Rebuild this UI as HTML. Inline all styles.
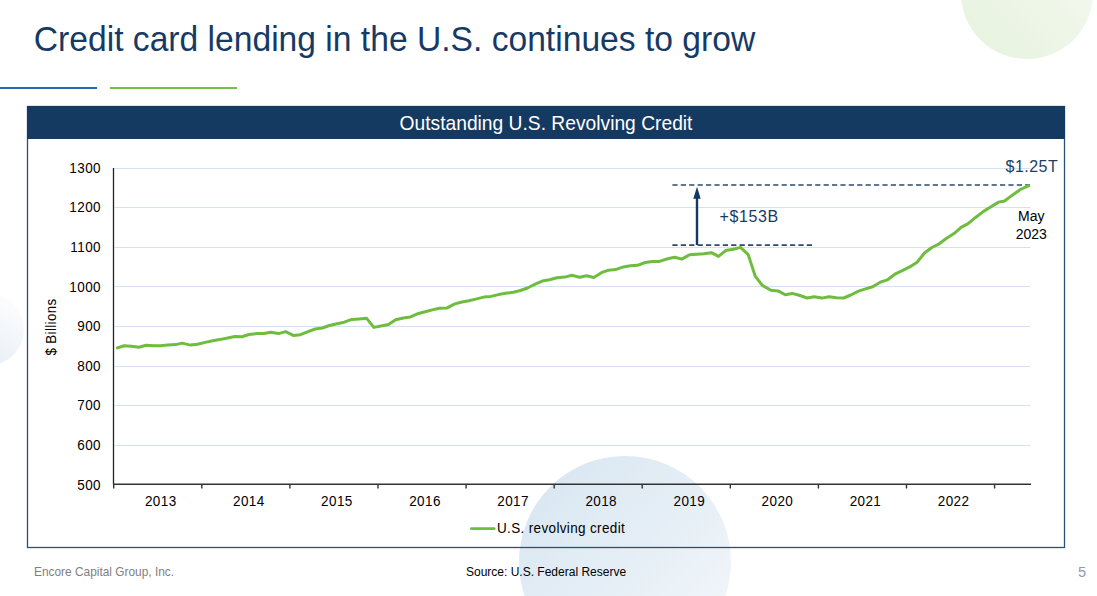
<!DOCTYPE html>
<html><head><meta charset="utf-8"><style>
html,body{margin:0;padding:0;background:#fff;}
body{width:1097px;height:596px;position:relative;overflow:hidden;font-family:"Liberation Sans",sans-serif;}
</style></head><body>
<svg width="1097" height="596" style="position:absolute;left:0;top:0"><defs><linearGradient id="gb" x1="0" y1="0" x2="1" y2="1"><stop offset="0" stop-color="#D6E5F1"/><stop offset="1" stop-color="#F5F8FB"/></linearGradient><linearGradient id="gg" x1="0" y1="1" x2="1" y2="0"><stop offset="0" stop-color="#E6F2DD"/><stop offset="1" stop-color="#F6FAF3"/></linearGradient><linearGradient id="gl" x1="0.7" y1="0" x2="0.3" y2="1"><stop offset="0.1" stop-color="#FBFCFD"/><stop offset="1" stop-color="#E8EEF5"/></linearGradient></defs><circle cx="1027" cy="-7" r="66" fill="url(#gg)"/><circle cx="-12" cy="329.5" r="36" fill="url(#gl)"/><circle cx="625" cy="562" r="106" fill="url(#gb)"/><rect x="0" y="87" width="97" height="2" fill="#1F6CB0"/><rect x="110" y="87" width="127" height="2" fill="#77BE43"/><rect x="27.5" y="106.5" width="1037" height="441" fill="none" stroke="#2A4F78" stroke-width="1.3"/><rect x="27" y="106" width="1038" height="33" fill="#153A61"/><line x1="114.5" y1="168.5" x2="1030.5" y2="168.5" stroke="#D0E2F4" stroke-width="1"/><line x1="114.5" y1="207.5" x2="1030.5" y2="207.5" stroke="#D0E2F4" stroke-width="1"/><line x1="114.5" y1="247.5" x2="1030.5" y2="247.5" stroke="#D0E2F4" stroke-width="1"/><line x1="114.5" y1="286.5" x2="1030.5" y2="286.5" stroke="#D0E2F4" stroke-width="1"/><line x1="114.5" y1="326.5" x2="1030.5" y2="326.5" stroke="#D0E2F4" stroke-width="1"/><line x1="114.5" y1="366.5" x2="1030.5" y2="366.5" stroke="#D0E2F4" stroke-width="1"/><line x1="114.5" y1="405.5" x2="1030.5" y2="405.5" stroke="#D0E2F4" stroke-width="1"/><line x1="114.5" y1="445.5" x2="1030.5" y2="445.5" stroke="#D0E2F4" stroke-width="1"/><line x1="113.5" y1="168" x2="113.5" y2="484.5" stroke="#222" stroke-width="1.3"/><line x1="113" y1="484.3" x2="1031" y2="484.3" stroke="#333" stroke-width="1.6"/><line x1="113.7" y1="484" x2="113.7" y2="488.5" stroke="#333" stroke-width="1.4"/><line x1="201.8" y1="484" x2="201.8" y2="488.5" stroke="#333" stroke-width="1.4"/><line x1="289.9" y1="484" x2="289.9" y2="488.5" stroke="#333" stroke-width="1.4"/><line x1="378.0" y1="484" x2="378.0" y2="488.5" stroke="#333" stroke-width="1.4"/><line x1="466.1" y1="484" x2="466.1" y2="488.5" stroke="#333" stroke-width="1.4"/><line x1="554.2" y1="484" x2="554.2" y2="488.5" stroke="#333" stroke-width="1.4"/><line x1="642.2" y1="484" x2="642.2" y2="488.5" stroke="#333" stroke-width="1.4"/><line x1="730.3" y1="484" x2="730.3" y2="488.5" stroke="#333" stroke-width="1.4"/><line x1="818.4" y1="484" x2="818.4" y2="488.5" stroke="#333" stroke-width="1.4"/><line x1="906.5" y1="484" x2="906.5" y2="488.5" stroke="#333" stroke-width="1.4"/><line x1="994.6" y1="484" x2="994.6" y2="488.5" stroke="#333" stroke-width="1.4"/><text transform="translate(101.00,172.80) scale(1.0,1.1)" text-anchor="end" style="font-family:&quot;Liberation Sans&quot;,sans-serif;font-size:13.5px;letter-spacing:0.4px" fill="#000">1300</text><text transform="translate(101.00,212.40) scale(1.0,1.1)" text-anchor="end" style="font-family:&quot;Liberation Sans&quot;,sans-serif;font-size:13.5px;letter-spacing:0.4px" fill="#000">1200</text><text transform="translate(101.00,252.00) scale(1.0,1.1)" text-anchor="end" style="font-family:&quot;Liberation Sans&quot;,sans-serif;font-size:13.5px;letter-spacing:0.4px" fill="#000">1100</text><text transform="translate(101.00,291.60) scale(1.0,1.1)" text-anchor="end" style="font-family:&quot;Liberation Sans&quot;,sans-serif;font-size:13.5px;letter-spacing:0.4px" fill="#000">1000</text><text transform="translate(101.00,331.20) scale(1.0,1.1)" text-anchor="end" style="font-family:&quot;Liberation Sans&quot;,sans-serif;font-size:13.5px;letter-spacing:0.4px" fill="#000">900</text><text transform="translate(101.00,370.80) scale(1.0,1.1)" text-anchor="end" style="font-family:&quot;Liberation Sans&quot;,sans-serif;font-size:13.5px;letter-spacing:0.4px" fill="#000">800</text><text transform="translate(101.00,410.40) scale(1.0,1.1)" text-anchor="end" style="font-family:&quot;Liberation Sans&quot;,sans-serif;font-size:13.5px;letter-spacing:0.4px" fill="#000">700</text><text transform="translate(101.00,450.00) scale(1.0,1.1)" text-anchor="end" style="font-family:&quot;Liberation Sans&quot;,sans-serif;font-size:13.5px;letter-spacing:0.4px" fill="#000">600</text><text transform="translate(101.00,489.60) scale(1.0,1.1)" text-anchor="end" style="font-family:&quot;Liberation Sans&quot;,sans-serif;font-size:13.5px;letter-spacing:0.4px" fill="#000">500</text><text transform="translate(160.75,505.90) scale(1.0,1.1)" text-anchor="middle" style="font-family:&quot;Liberation Sans&quot;,sans-serif;font-size:13.5px;letter-spacing:0.4px" fill="#000">2013</text><text transform="translate(248.84,505.90) scale(1.0,1.1)" text-anchor="middle" style="font-family:&quot;Liberation Sans&quot;,sans-serif;font-size:13.5px;letter-spacing:0.4px" fill="#000">2014</text><text transform="translate(336.93,505.90) scale(1.0,1.1)" text-anchor="middle" style="font-family:&quot;Liberation Sans&quot;,sans-serif;font-size:13.5px;letter-spacing:0.4px" fill="#000">2015</text><text transform="translate(425.02,505.90) scale(1.0,1.1)" text-anchor="middle" style="font-family:&quot;Liberation Sans&quot;,sans-serif;font-size:13.5px;letter-spacing:0.4px" fill="#000">2016</text><text transform="translate(513.11,505.90) scale(1.0,1.1)" text-anchor="middle" style="font-family:&quot;Liberation Sans&quot;,sans-serif;font-size:13.5px;letter-spacing:0.4px" fill="#000">2017</text><text transform="translate(601.20,505.90) scale(1.0,1.1)" text-anchor="middle" style="font-family:&quot;Liberation Sans&quot;,sans-serif;font-size:13.5px;letter-spacing:0.4px" fill="#000">2018</text><text transform="translate(689.29,505.90) scale(1.0,1.1)" text-anchor="middle" style="font-family:&quot;Liberation Sans&quot;,sans-serif;font-size:13.5px;letter-spacing:0.4px" fill="#000">2019</text><text transform="translate(777.38,505.90) scale(1.0,1.1)" text-anchor="middle" style="font-family:&quot;Liberation Sans&quot;,sans-serif;font-size:13.5px;letter-spacing:0.4px" fill="#000">2020</text><text transform="translate(865.47,505.90) scale(1.0,1.1)" text-anchor="middle" style="font-family:&quot;Liberation Sans&quot;,sans-serif;font-size:13.5px;letter-spacing:0.4px" fill="#000">2021</text><text transform="translate(953.56,505.90) scale(1.0,1.1)" text-anchor="middle" style="font-family:&quot;Liberation Sans&quot;,sans-serif;font-size:13.5px;letter-spacing:0.4px" fill="#000">2022</text><line x1="672.4" y1="185" x2="1030" y2="185" stroke="#2C4A6E" stroke-width="1.6" stroke-dasharray="5.2 3.2"/><line x1="672.4" y1="245.1" x2="812" y2="245.1" stroke="#2C4A6E" stroke-width="1.6" stroke-dasharray="5.2 3.2"/><line x1="697" y1="245" x2="697" y2="197" stroke="#153A61" stroke-width="2.4"/><polygon points="697,186.8 693.3,198.8 700.7,198.8" fill="#153A61"/><polyline points="117.4,347.9 124.2,345.7 131.3,346.2 139.0,347.3 146.1,345.3 153.8,345.8 160.3,345.7 168.0,345.1 175.6,344.6 182.2,343.1 190.4,345.1 197.5,344.3 205.2,342.4 212.8,340.7 219.4,339.6 227.7,338.0 234.8,336.5 241.9,336.7 249.0,334.5 256.7,333.6 263.8,333.4 270.9,332.3 278.5,333.6 285.6,331.6 293.3,335.4 300.4,334.7 307.5,331.8 315.2,329.0 322.3,328.0 329.4,325.5 337.1,323.8 344.2,322.2 351.9,319.4 359.0,318.9 366.7,318.3 373.8,327.4 380.9,326.0 388.5,324.6 395.6,319.8 403.3,318.0 410.4,316.9 417.5,313.8 425.2,311.8 432.3,309.9 439.4,308.2 447.1,307.9 454.8,303.9 461.9,302.0 469.0,300.8 476.7,298.9 483.8,297.1 490.9,296.4 498.5,294.6 505.6,293.3 513.3,292.2 520.4,290.5 527.5,288.0 535.2,284.2 542.3,281.1 549.4,279.8 557.1,277.8 564.8,277.1 571.9,275.3 579.5,277.3 586.7,275.7 593.8,277.5 601.4,272.7 608.5,270.2 615.6,269.6 623.3,266.9 630.4,265.8 637.5,265.3 645.2,262.5 652.3,261.5 659.4,261.4 667.7,258.8 674.8,257.2 681.9,259.1 689.5,254.7 696.7,254.2 703.8,253.8 711.4,252.7 718.5,256.4 725.6,250.6 733.3,249.2 740.4,247.4 748.1,254.4 755.2,276.1 762.3,285.4 770.9,290.3 778.1,290.9 785.2,294.7 792.3,293.4 799.9,295.5 807.0,298.0 814.2,296.7 821.8,298.1 828.9,296.7 836.6,297.8 843.7,298.0 850.8,295.0 858.5,291.1 865.6,288.9 872.7,286.7 880.2,282.2 887.5,279.8 894.9,274.2 902.3,270.6 909.7,266.9 917.1,262.2 924.5,253.0 931.8,247.5 939.2,243.8 946.6,238.3 954.0,233.6 961.4,227.2 967.8,223.9 975.9,217.2 983.5,211.4 991.0,206.8 998.6,202.1 1004.5,201.0 1012.0,195.4 1020.4,189.5 1028.8,185.7" fill="none" stroke="#6EBD3F" stroke-width="3" stroke-linejoin="round" stroke-linecap="round"/><line x1="471.4" y1="528.7" x2="494.2" y2="528.7" stroke="#6EBD3F" stroke-width="2.8" stroke-linecap="round"/><text transform="translate(33.80,50.50) scale(1.004,1.02)" text-anchor="start" style="font-family:&quot;Liberation Sans&quot;,sans-serif;font-size:33.5px;letter-spacing:0px" fill="#173A64">Credit card lending in the U.S. continues to grow</text><text transform="translate(546.00,129.60) scale(0.987,1.03)" text-anchor="middle" style="font-family:&quot;Liberation Sans&quot;,sans-serif;font-size:19.5px;letter-spacing:0px" fill="#FFFFFF">Outstanding U.S. Revolving Credit</text><text transform="translate(497.00,532.50) scale(1.0,1.08)" text-anchor="start" style="font-family:&quot;Liberation Sans&quot;,sans-serif;font-size:13.5px;letter-spacing:0.35px" fill="#000">U.S. revolving credit</text><text transform="translate(34.00,575.70) scale(1.0,1.0)" text-anchor="start" style="font-family:&quot;Liberation Sans&quot;,sans-serif;font-size:11.9px;letter-spacing:0px" fill="#7F7F7F">Encore Capital Group, Inc.</text><text transform="translate(466.00,575.80) scale(1.0,1.0)" text-anchor="start" style="font-family:&quot;Liberation Sans&quot;,sans-serif;font-size:12px;letter-spacing:0px" fill="#000">Source: U.S. Federal Reserve</text><text transform="translate(1078.00,577.00) scale(1.0,1.0)" text-anchor="start" style="font-family:&quot;Liberation Sans&quot;,sans-serif;font-size:14.5px;letter-spacing:0px" fill="#8A9BB0">5</text><text transform="translate(719.50,221.70) scale(1.0,1.03)" text-anchor="start" style="font-family:&quot;Liberation Sans&quot;,sans-serif;font-size:16px;letter-spacing:0.6px" fill="#173A64">+$153B</text><text transform="translate(1005.50,171.80) scale(1.0,1.05)" text-anchor="start" style="font-family:&quot;Liberation Sans&quot;,sans-serif;font-size:16px;letter-spacing:0.5px" fill="#223E5F">$1.25T</text><text transform="translate(1031.30,221.00) scale(1.0,1.04)" text-anchor="middle" style="font-family:&quot;Liberation Sans&quot;,sans-serif;font-size:14px;letter-spacing:0px" fill="#000">May</text><text transform="translate(1031.20,238.90) scale(1.0,1.04)" text-anchor="middle" style="font-family:&quot;Liberation Sans&quot;,sans-serif;font-size:14px;letter-spacing:0px" fill="#000">2023</text><text transform="translate(55.90,327.00) rotate(-90) scale(1.0,1.08)" text-anchor="middle" style="font-family:&quot;Liberation Sans&quot;,sans-serif;font-size:13.3px;letter-spacing:0.4px" fill="#000">$ Billions</text></svg>
</body></html>
